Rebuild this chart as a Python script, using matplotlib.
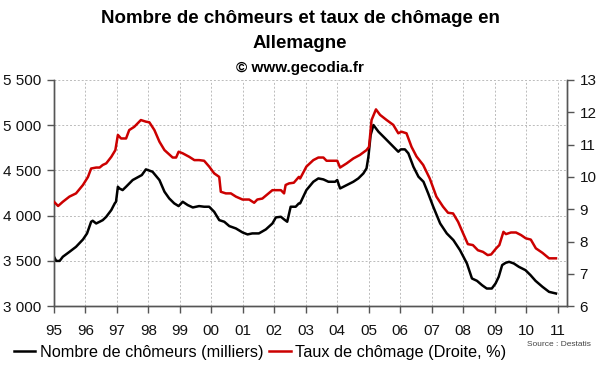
import matplotlib
matplotlib.use("Agg")
import matplotlib.pyplot as plt
from matplotlib.ticker import FuncFormatter

plt.rcParams['font.family'] = ['Liberation Sans', 'DejaVu Sans']

# Number of unemployed (thousands), left axis
chom_x = [1995.00, 1995.07, 1995.18, 1995.28, 1995.49, 1995.70, 1995.92, 1996.05,
          1996.18, 1996.23, 1996.34, 1996.45, 1996.55, 1996.66, 1996.82, 1996.93,
          1996.97, 1997.03, 1997.08, 1997.18, 1997.29, 1997.50, 1997.79, 1997.92,
          1998.13, 1998.35, 1998.51, 1998.66, 1998.82, 1998.96, 1999.09, 1999.25,
          1999.41, 1999.61, 1999.77, 1999.93, 2000.09, 2000.25, 2000.41, 2000.57,
          2000.78, 2000.99, 2001.15, 2001.30, 2001.51, 2001.73, 2001.94, 2002.05,
          2002.21, 2002.31, 2002.41, 2002.52, 2002.68, 2002.78,
          2002.82, 2003.02, 2003.24, 2003.40, 2003.56, 2003.72, 2003.93, 2004.00,
          2004.09, 2004.30, 2004.51, 2004.67, 2004.83, 2004.93, 2004.99, 2005.06,
          2005.15, 2005.31, 2005.52, 2005.73, 2005.94, 2006.02, 2006.15, 2006.26,
          2006.42, 2006.58, 2006.74, 2006.89, 2007.05, 2007.27, 2007.48, 2007.69,
          2007.90, 2008.12, 2008.28, 2008.44, 2008.60, 2008.75, 2008.91, 2009.03,
          2009.13, 2009.24, 2009.35, 2009.46, 2009.61, 2009.77, 2009.98, 2010.14,
          2010.30, 2010.52, 2010.73, 2010.95]
chom_y = [3546, 3500, 3500, 3546, 3600, 3656, 3737, 3804,
          3933, 3944, 3914, 3933, 3951, 3988, 4062, 4136,
          4154, 4320, 4301, 4283, 4320, 4394, 4449, 4512,
          4486, 4394, 4265, 4191, 4136, 4106, 4154, 4117,
          4091, 4106, 4099, 4099, 4043, 3951, 3933, 3885,
          3859, 3815, 3793, 3804, 3804, 3848, 3914, 3981,
          3988, 3959, 3933, 4099, 4099, 4136,
          4136, 4283, 4375, 4412, 4401, 4375, 4375, 4394,
          4301, 4338, 4375, 4412, 4467, 4523, 4652, 4891,
          5002, 4928, 4855, 4781, 4707, 4733, 4733, 4689,
          4541, 4431, 4375, 4246, 4099, 3914, 3804, 3730,
          3619, 3472, 3306, 3280, 3232, 3195, 3195, 3251,
          3324, 3454, 3479, 3490, 3472, 3435, 3398, 3343,
          3280, 3214, 3158, 3140]

# Unemployment rate (%), right axis
taux_x = [1995.00, 1995.13, 1995.28, 1995.49, 1995.70, 1995.92, 1996.08, 1996.18,
          1996.34, 1996.45, 1996.55, 1996.66, 1996.82, 1996.95, 1997.03, 1997.13,
          1997.29, 1997.39, 1997.55, 1997.76, 1997.92, 1998.03, 1998.19, 1998.35,
          1998.51, 1998.77, 1998.88, 1998.96, 1999.09, 1999.30, 1999.46, 1999.61,
          1999.77, 1999.93, 2000.09, 2000.25, 2000.30, 2000.46, 2000.62, 2000.78,
          2000.99, 2001.20, 2001.36, 2001.46, 2001.62, 2001.94, 2002.21, 2002.31,
          2002.36, 2002.47, 2002.62, 2002.78,
          2002.82, 2003.02, 2003.24, 2003.40, 2003.56, 2003.66, 2003.93, 2004.00,
          2004.09, 2004.30, 2004.51, 2004.72, 2004.93, 2005.01, 2005.09, 2005.23,
          2005.36, 2005.57, 2005.78, 2005.94, 2006.04, 2006.20, 2006.36, 2006.52,
          2006.73, 2006.94, 2007.15, 2007.36, 2007.52, 2007.68, 2007.84, 2008.00,
          2008.15, 2008.31, 2008.47, 2008.63, 2008.78, 2008.89, 2009.05, 2009.15,
          2009.28, 2009.36, 2009.52, 2009.68, 2009.84, 2009.99, 2010.15, 2010.31,
          2010.52, 2010.73, 2010.95]
taux_y = [9.23, 9.10, 9.23, 9.39, 9.49, 9.75, 10.00, 10.26,
          10.29, 10.29, 10.37, 10.42, 10.62, 10.83, 11.30, 11.19,
          11.19, 11.45, 11.55, 11.76, 11.71, 11.69, 11.45, 11.09,
          10.83, 10.60, 10.60, 10.78, 10.73, 10.62, 10.52, 10.52,
          10.50, 10.32, 10.11, 10.00, 9.54, 9.49, 9.49, 9.39,
          9.30, 9.30, 9.20, 9.30, 9.33, 9.59, 9.59, 9.49,
          9.75, 9.80, 9.82, 10.00,
          9.95, 10.32, 10.52, 10.60, 10.60, 10.50, 10.50, 10.50,
          10.29, 10.42, 10.57, 10.68, 10.83, 10.93, 11.76, 12.09,
          11.92, 11.76, 11.61, 11.35, 11.40, 11.35, 10.93, 10.63,
          10.37, 9.95, 9.39, 9.08, 8.89, 8.87, 8.61, 8.25,
          7.92, 7.89, 7.73, 7.68, 7.58, 7.60, 7.79, 7.89,
          8.30, 8.23, 8.28, 8.28, 8.20, 8.10, 8.06, 7.79,
          7.65, 7.48, 7.48]

year_ticks = list(range(1995, 2012))
year_labels = ["95", "96", "97", "98", "99", "00", "01", "02", "03",
               "04", "05", "06", "07", "08", "09", "10", "11"]
left_ticks = [3000, 3500, 4000, 4500, 5000, 5500]
right_ticks = [6, 7, 8, 9, 10, 11, 12, 13]

fig = plt.figure(figsize=(6.0, 3.72), dpi=100)
ax = fig.add_axes([0.09, 0.177, 0.855, 0.608])
ax2 = ax.twinx()

spine_col = '#555555'
grid_col = '#bbbbbb'

ax.plot(chom_x, chom_y, color='black', lw=1.8, zorder=3,
        label='Nombre de chômeurs (milliers)')
ax2.plot(taux_x, taux_y, color='#cc0000', lw=1.8, zorder=3,
         label='Taux de chômage (Droite, %)')

ax.set_xlim(1995, 2011.3)
ax.set_ylim(3000, 5500)
ax2.set_ylim(6, 13)
ax.set_xticks(year_ticks)
ax.set_xticklabels(year_labels)
ax.set_yticks(left_ticks)
ax.yaxis.set_major_formatter(FuncFormatter(lambda v, p: f"{int(v):,}".replace(",", " ")))
ax2.set_yticks(right_ticks)

ax.grid(True, color=grid_col, linestyle=(0, (2, 2)), linewidth=0.7)
ax.set_axisbelow(True)

for a in (ax, ax2):
    a.spines['top'].set_visible(False)
    for s in ('left', 'right', 'bottom'):
        a.spines[s].set_color(spine_col)
        a.spines[s].set_linewidth(1.0)
    a.tick_params(colors=spine_col, labelcolor='#111111', length=5, width=1.0,
                  labelsize=11)
ax.tick_params(axis='x', pad=8)
ax.tick_params(axis='y', pad=4)
ax2.tick_params(axis='y', pad=4)

fig.text(0.5, 0.951, "Nombre de chômeurs et taux de chômage en", ha='center',
         va='center', fontsize=13.5, fontweight='bold')
fig.text(0.5, 0.882, "Allemagne", ha='center', va='center', fontsize=13.5,
         fontweight='bold')
fig.text(0.5, 0.818, "© www.gecodia.fr", ha='center', va='center', fontsize=11,
         fontweight='bold')
fig.text(0.985, 0.075, "Source : Destatis", ha='right', va='center', fontsize=6,
         color='#444444')

h1, l1 = ax.get_legend_handles_labels()
h2, l2 = ax2.get_legend_handles_labels()
fig.legend(h1 + h2, l1 + l2, loc='center left', bbox_to_anchor=(0.013, 0.052),
           ncol=2, frameon=False, fontsize=11.7, handlelength=1.3,
           handletextpad=0.3, columnspacing=0.35, borderaxespad=0)

fig.savefig("out.png", dpi=100)
